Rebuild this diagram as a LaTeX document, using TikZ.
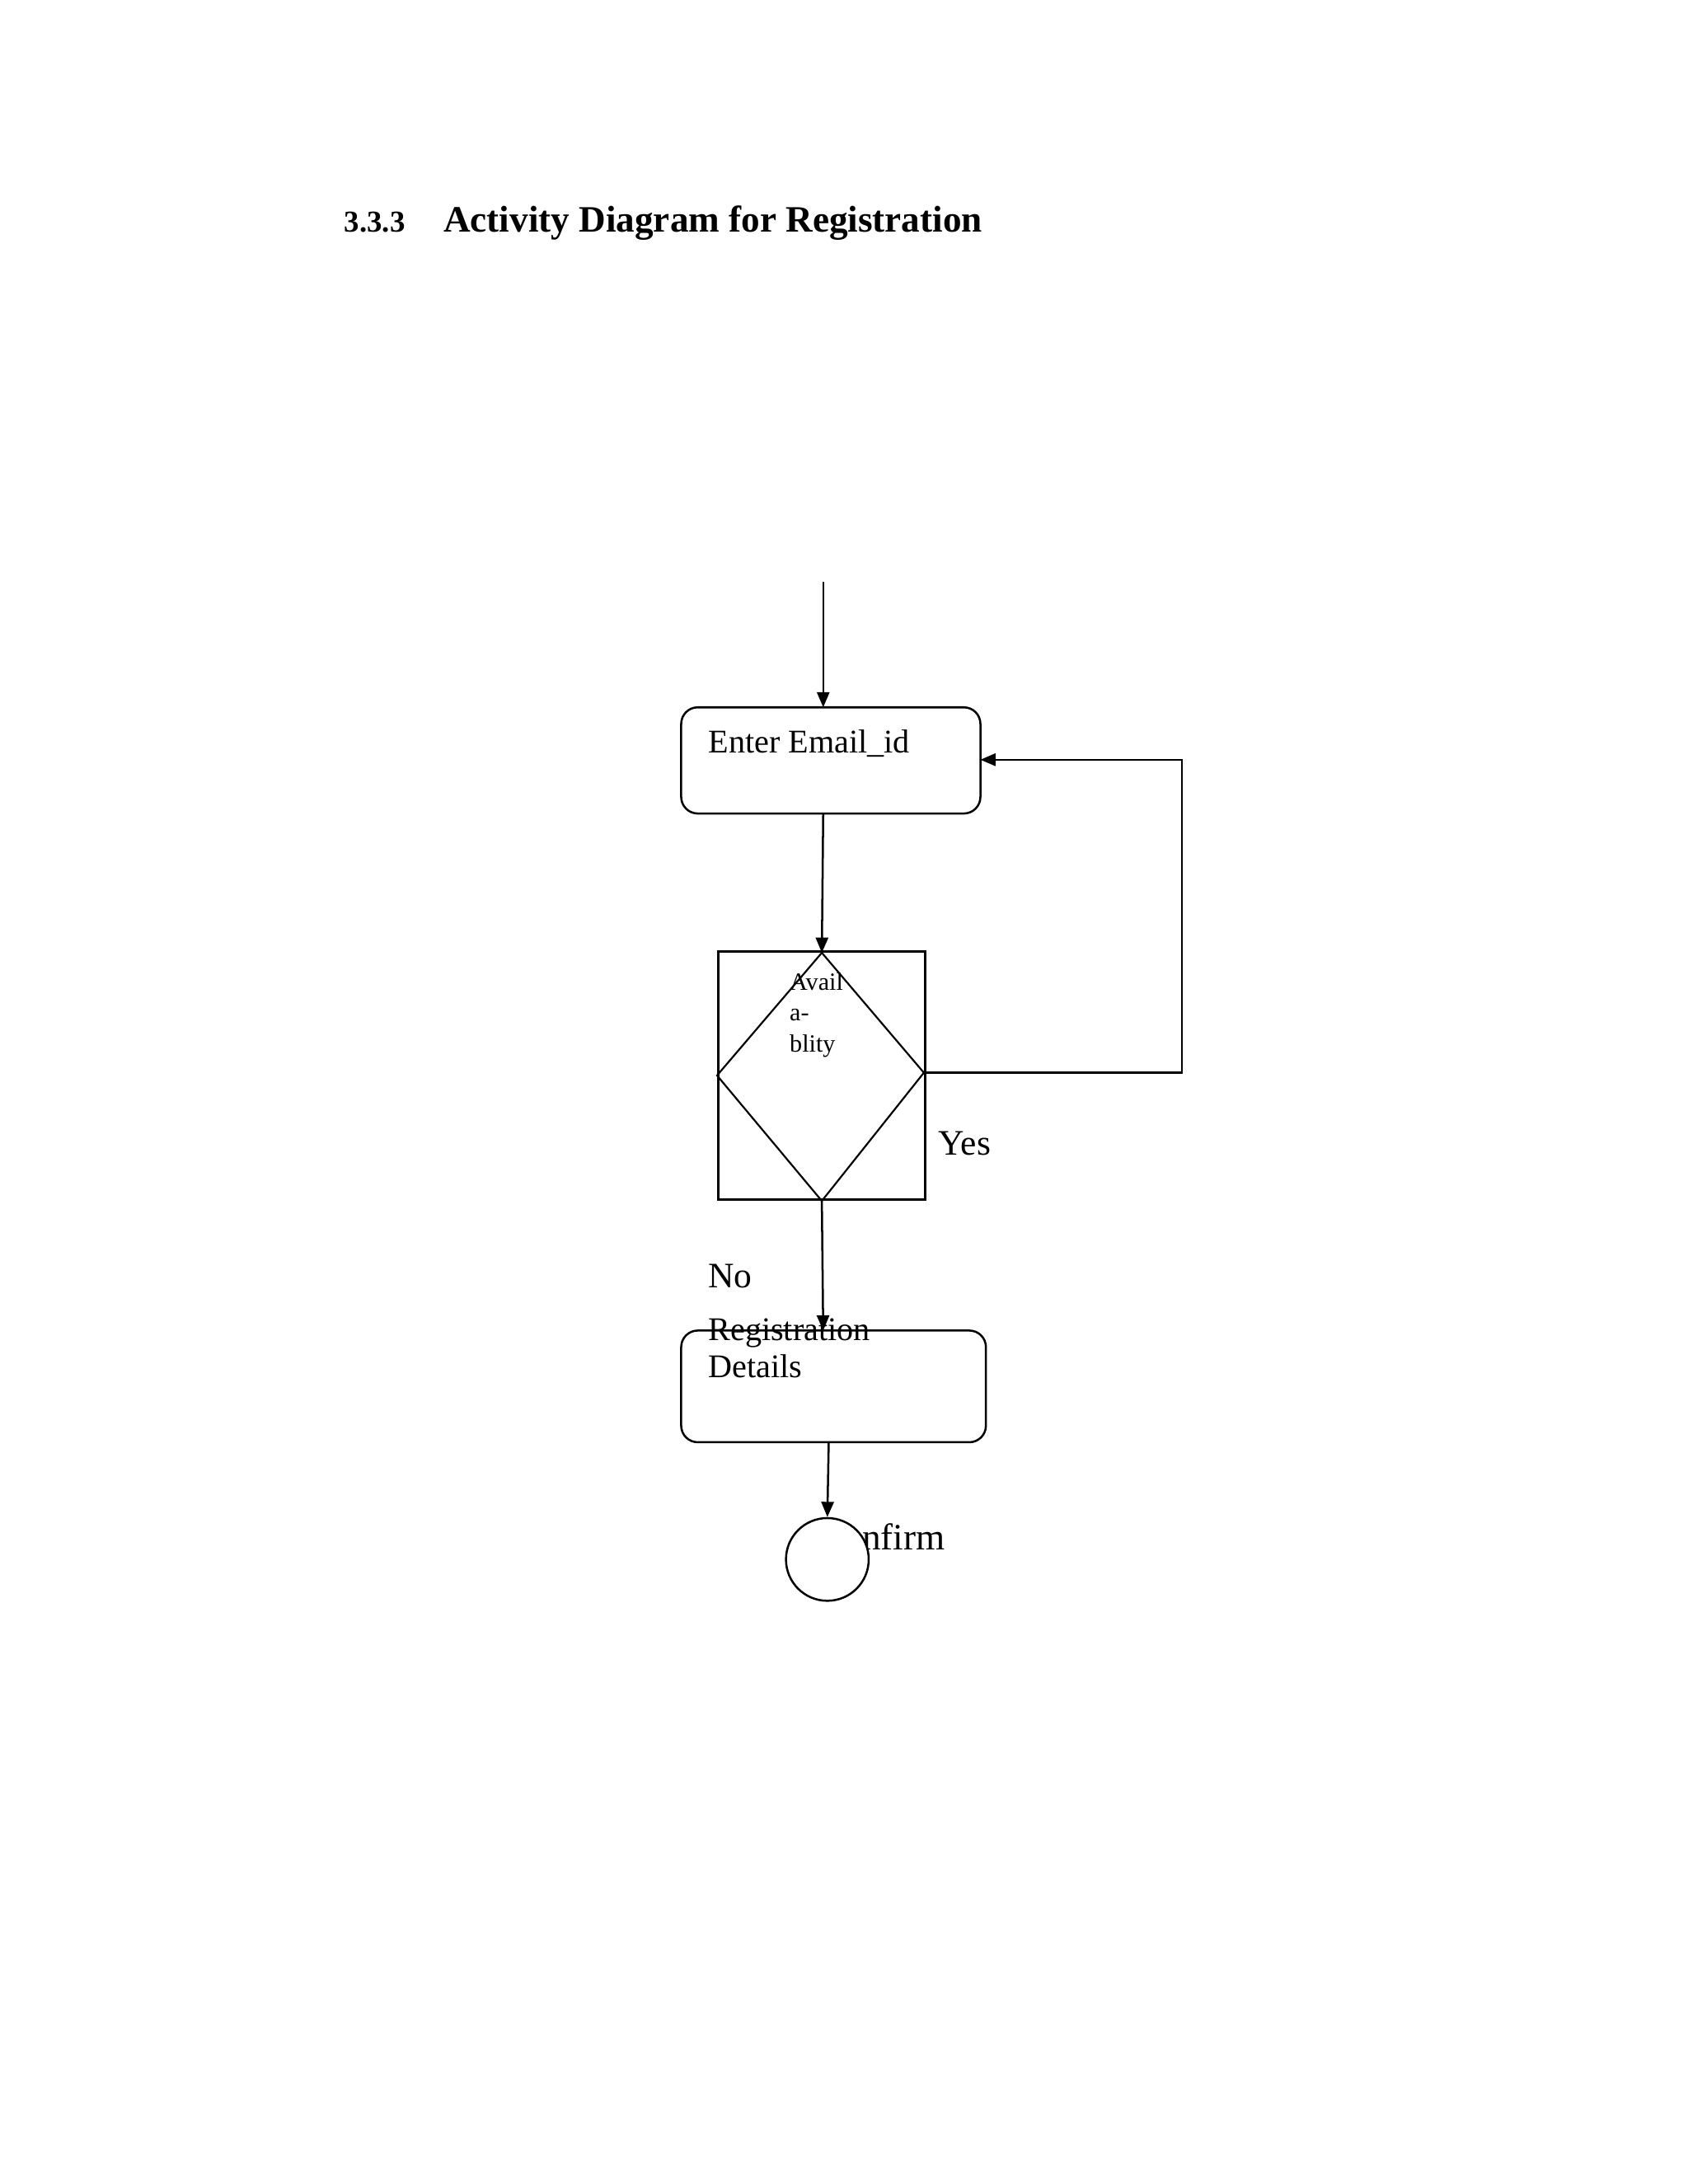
\documentclass[tikz,border=0pt]{standalone}
\usepackage{fontspec}
\setmainfont{Liberation Serif}
\usetikzlibrary{arrows.meta,shapes.geometric}
\begin{document}
\begin{tikzpicture}[x=1pt,y=-1pt,line width=1.5pt,
  box/.style={draw,rounded corners=12pt},
  lbl/.style={anchor=base west,inner sep=0pt,font=\fontsize{24}{27}\selectfont},
  arr/.style={-{Triangle[length=11pt,width=9pt]}}]
\useasboundingbox (0,0) rectangle (1224,1584);
\node[anchor=base west,inner sep=0pt,font=\fontsize{22}{26}\bfseries\selectfont] (num) at (249,168) {3.3.3};
\node[anchor=base west,inner sep=0pt,font=\fontsize{27}{30}\bfseries\selectfont] (title) at (321,168) {Activity Diagram for Registration};
\coordinate (start) at (597,422);
\draw[box] (494,513) rectangle (711,590);
\coordinate (emailtop) at (597,513);
\coordinate (emailbot) at (597,590);
\coordinate (emailright) at (711,551);
\node[lbl] (emailtxt) at (513,546) {Enter Email\_id};
\draw (521,690) rectangle (671,870);
\coordinate (dtop) at (596,691);
\coordinate (dbot) at (596,871);
\coordinate (dright) at (670,778);
\draw[line width=1.3pt] (dtop) -- (520,780) -- (dbot) -- (dright) -- cycle;
\node[anchor=base west,inner sep=0pt,align=left,font=\fontsize{18}{22.5}\selectfont] (avail) at (572,763) {Avail\\a-\\blity};
\coordinate (c1) at (857,778);
\coordinate (c2) at (857,551);
\draw[arr] (dright) -- (c1) -- (c2) -- (emailright);
\node[lbl,font=\fontsize{26}{30}\selectfont] (yes) at (680,838) {Yes};
\node[lbl,font=\fontsize{26}{30}\selectfont] (no) at (513,934) {No};
\draw[box] (494,965) rectangle (715,1046);
\coordinate (regtop) at (597,965);
\coordinate (regbot) at (601,1046);
\node[anchor=base west,inner sep=0pt,align=left,font=\fontsize{24}{27}\selectfont] (regtxt) at (513,999) {Registration\\Details};
\node[lbl,font=\fontsize{27}{30}\selectfont] (conf) at (593,1124) {Confirm};
\node[circle,draw,fill=white,minimum size=60pt,inner sep=0pt] (end) at (600,1131) {};
\draw[arr] (start) -- (emailtop);
\draw[arr] (emailbot) -- (dtop);
\draw[arr] (dbot) -- (regtop);
\draw[arr] (regbot) -- (end.north);
\end{tikzpicture}
\end{document}
